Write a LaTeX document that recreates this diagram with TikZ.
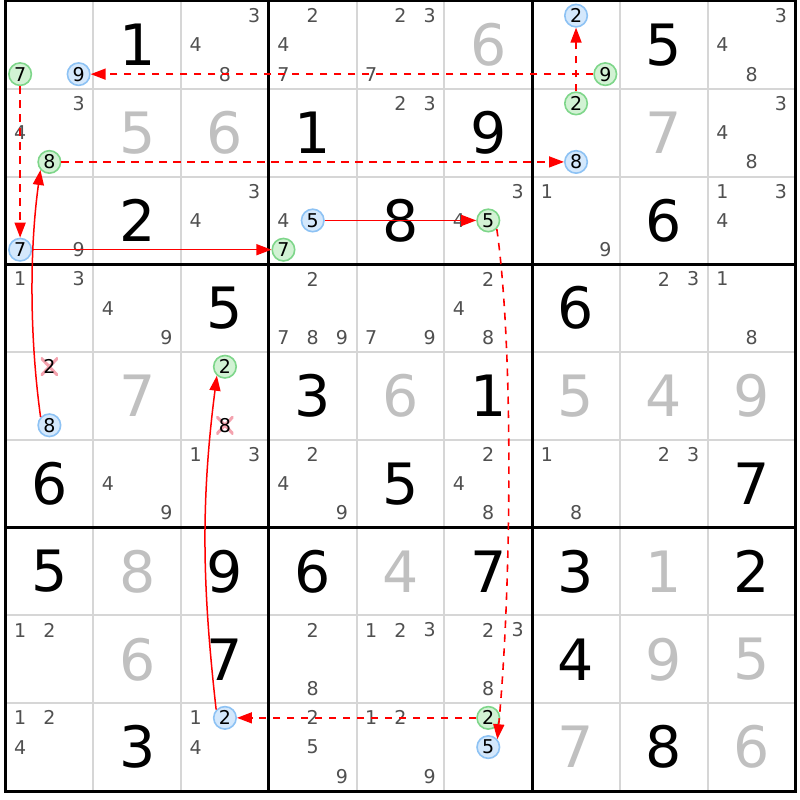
\documentclass[tikz,border=0pt]{standalone}
\usepackage{fontspec}
\setmainfont{DejaVu Sans}
\usetikzlibrary{arrows.meta}
\definecolor{candgray}{HTML}{505050}
\definecolor{givengray}{HTML}{C0C0C0}
\definecolor{gridgray}{HTML}{D6D6D6}
\definecolor{bluefill}{HTML}{D4E8FC}
\definecolor{blueedge}{HTML}{8DC2F4}
\definecolor{greenfill}{HTML}{D2F2D4}
\definecolor{greenedge}{HTML}{7ED68A}
\definecolor{crosspink}{HTML}{F4A2AE}
\definecolor{chainred}{HTML}{FF0000}
\newcommand\cpos[3]{%
  \pgfmathsetmacro\cx{5.5+#2*87.7778+(mod(#3-1,3)+0.5)*29.2593}%
  \pgfmathsetmacro\cy{-(1+#1*87.7778+(floor((#3-1)/3)+0.5)*29.2593)}%
}
\newcommand\cands[3]{\foreach \d in {#3}{\cpos{#1}{#2}{\d}\node[cand] (k#1#2\d) at (\cx,\cy) {\d};}}
\newcommand\gv[4]{%
  \pgfmathsetmacro\gx{5.5+(#2+0.5)*87.7778}%
  \pgfmathsetmacro\gy{-(1+(#1+0.5)*87.7778)}%
  \node[#4] (v#1#2) at (\gx,\gy) {#3};}
\newcommand\hl[5]{\cpos{#2}{#3}{#4}\node[#1] (#5) at (\cx,\cy) {#4};}
\tikzset{
  cand/.style={font=\fontsize{19}{19}\selectfont, text=candgray, inner sep=0pt},
  bigblack/.style={font=\fontsize{57}{57}\selectfont, text=black, inner sep=0pt},
  biggray/.style={font=\fontsize{57}{57}\selectfont, text=givengray, inner sep=0pt},
  hlblue/.style={circle, draw=blueedge, fill=bluefill, line width=1.6pt, minimum size=22.5pt, inner sep=0pt, font=\fontsize{19}{19}\selectfont, text=black},
  hlgreen/.style={circle, draw=greenedge, fill=greenfill, line width=1.6pt, minimum size=22.5pt, inner sep=0pt, font=\fontsize{19}{19}\selectfont, text=black},
  crossed/.style={cand, text=black, minimum width=17pt, minimum height=18pt,
    path picture={\draw[crosspink, line width=3pt]
      (path picture bounding box.south west) -- (path picture bounding box.north east)
      (path picture bounding box.north west) -- (path picture bounding box.south east);}},
  weak/.style={draw=chainred, line width=1.6pt, dash pattern=on 7.5pt off 6.5pt, -{Triangle[length=15pt,width=11pt]}},
  strong/.style={draw=chainred, line width=1.5pt, -{Triangle[length=15pt,width=11pt]}},
  gridthin/.style={draw=gridgray, line width=2pt},
  gridthick/.style={draw=black, line width=3pt},
}
\begin{document}
\begin{tikzpicture}[x=1pt,y=1pt]
\useasboundingbox[fill=white] (0,0) rectangle (800,-800);
% grid
\foreach \i in {1,2,4,5,7,8}{
  \draw[gridthin] (5.5+\i*87.7778,-1) -- (5.5+\i*87.7778,-791);
  \draw[gridthin] (5.5,-1-\i*87.7778) -- (795.5,-1-\i*87.7778);
}
\foreach \i in {3,6}{
  \draw[gridthick] (5.5+\i*87.7778,-1) -- (5.5+\i*87.7778,-791);
  \draw[gridthick] (5.5,-1-\i*87.7778) -- (795.5,-1-\i*87.7778);
}
\draw[gridthick] (5.5,-1) rectangle (795.5,-791);
% row 0
\hl{hlgreen}{0}{0}{7}{r0c0g7}
\hl{hlblue}{0}{0}{9}{r0c0b9}
\gv{0}{1}{1}{bigblack}
\cands{0}{2}{3,4,8}
\cands{0}{3}{2,4,7}
\cands{0}{4}{2,3,7}
\gv{0}{5}{6}{biggray}
\hl{hlblue}{0}{6}{2}{r0c6b2}
\hl{hlgreen}{0}{6}{9}{r0c6g9}
\gv{0}{7}{5}{bigblack}
\cands{0}{8}{3,4,8}
% row 1
\cands{1}{0}{3,4}
\hl{hlgreen}{1}{0}{8}{r1c0g8}
\gv{1}{1}{5}{biggray}
\gv{1}{2}{6}{biggray}
\gv{1}{3}{1}{bigblack}
\cands{1}{4}{2,3}
\gv{1}{5}{9}{bigblack}
\hl{hlgreen}{1}{6}{2}{r1c6g2}
\hl{hlblue}{1}{6}{8}{r1c6b8}
\gv{1}{7}{7}{biggray}
\cands{1}{8}{3,4,8}
% row 2
\hl{hlblue}{2}{0}{7}{r2c0b7}
\cands{2}{0}{9}
\gv{2}{1}{2}{bigblack}
\cands{2}{2}{3,4}
\cands{2}{3}{4}
\hl{hlblue}{2}{3}{5}{r2c3b5}
\hl{hlgreen}{2}{3}{7}{r2c3g7}
\gv{2}{4}{8}{bigblack}
\cands{2}{5}{3,4}
\hl{hlgreen}{2}{5}{5}{r2c5g5}
\cands{2}{6}{1,9}
\gv{2}{7}{6}{bigblack}
\cands{2}{8}{1,3,4}
% row 3
\cands{3}{0}{1,3}
\cands{3}{1}{4,9}
\gv{3}{2}{5}{bigblack}
\cands{3}{3}{2,7,8,9}
\cands{3}{4}{7,9}
\cands{3}{5}{2,4,8}
\gv{3}{6}{6}{bigblack}
\cands{3}{7}{2,3}
\cands{3}{8}{1,8}
% row 4
\cpos{4}{0}{2}\node[crossed] (x402) at (\cx,\cy) {2};
\hl{hlblue}{4}{0}{8}{r4c0b8}
\gv{4}{1}{7}{biggray}
\hl{hlgreen}{4}{2}{2}{r4c2g2}
\cpos{4}{2}{8}\node[crossed] (x428) at (\cx,\cy) {8};
\gv{4}{3}{3}{bigblack}
\gv{4}{4}{6}{biggray}
\gv{4}{5}{1}{bigblack}
\gv{4}{6}{5}{biggray}
\gv{4}{7}{4}{biggray}
\gv{4}{8}{9}{biggray}
% row 5
\gv{5}{0}{6}{bigblack}
\cands{5}{1}{4,9}
\cands{5}{2}{1,3}
\cands{5}{3}{2,4,9}
\gv{5}{4}{5}{bigblack}
\cands{5}{5}{2,4,8}
\cands{5}{6}{1,8}
\cands{5}{7}{2,3}
\gv{5}{8}{7}{bigblack}
% row 6
\gv{6}{0}{5}{bigblack}
\gv{6}{1}{8}{biggray}
\gv{6}{2}{9}{bigblack}
\gv{6}{3}{6}{bigblack}
\gv{6}{4}{4}{biggray}
\gv{6}{5}{7}{bigblack}
\gv{6}{6}{3}{bigblack}
\gv{6}{7}{1}{biggray}
\gv{6}{8}{2}{bigblack}
% row 7
\cands{7}{0}{1,2}
\gv{7}{1}{6}{biggray}
\gv{7}{2}{7}{bigblack}
\cands{7}{3}{2,8}
\cands{7}{4}{1,2,3}
\cands{7}{5}{2,3,8}
\gv{7}{6}{4}{bigblack}
\gv{7}{7}{9}{biggray}
\gv{7}{8}{5}{biggray}
% row 8
\cands{8}{0}{1,2,4}
\gv{8}{1}{3}{bigblack}
\cands{8}{2}{1,4}
\hl{hlblue}{8}{2}{2}{r8c2b2}
\cands{8}{3}{2,5,9}
\cands{8}{4}{1,2,9}
\hl{hlgreen}{8}{5}{2}{r8c5g2}
\hl{hlblue}{8}{5}{5}{r8c5b5}
\gv{8}{6}{7}{biggray}
\gv{8}{7}{8}{bigblack}
\gv{8}{8}{6}{biggray}
% chain
\draw[weak] (r0c6g9) -- (r0c0b9);
\draw[weak] (r0c0g7) -- (r2c0b7);
\draw[strong] (r2c0b7) -- (r2c3g7);
\draw[strong] (r2c3b5) -- (r2c5g5);
\draw[weak] (r2c5g5.-45) .. controls +(17,-120) and +(14,150) .. (r8c5b5.41);
\draw[weak] (r8c5g2) -- (r8c2b2);
\draw[strong] (r8c2b2.137) .. controls +(-13,117) and +(-17,-132) .. (r4c2g2.-132);
\draw[strong] (r4c0b8.137) .. controls +(-11,80) and +(-11,-80) .. (r1c0g8.-138);
\draw[weak] (r1c0g8) -- (r1c6b8);
\draw[weak] (r1c6g2) -- (r0c6b2);
\end{tikzpicture}
\end{document}
